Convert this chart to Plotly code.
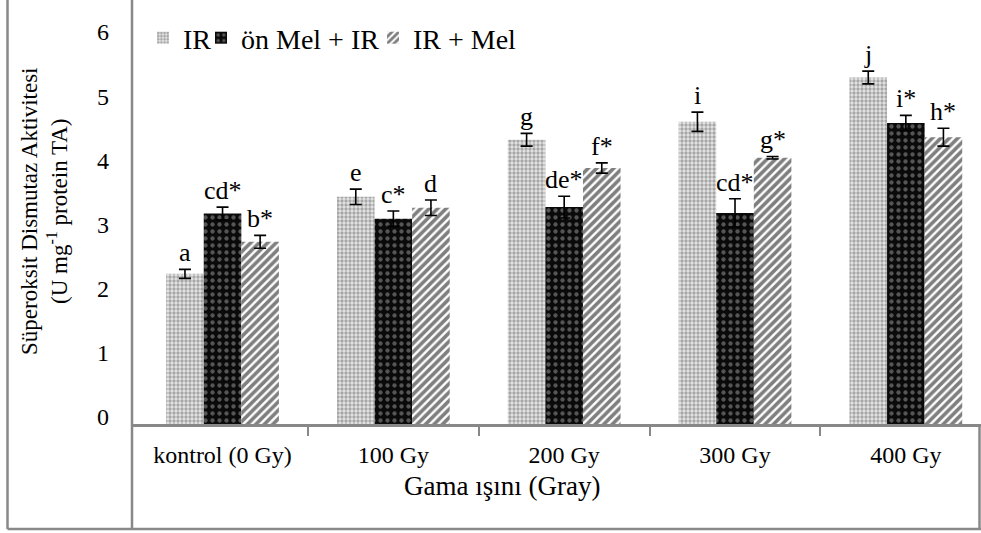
import plotly.graph_objects as go

categories = ["kontrol (0 Gy)", "100 Gy", "200 Gy", "300 Gy", "400 Gy"]
series_names = ["IR", "ön Mel + IR", "IR + Mel"]
ir_vals = [2.34, 3.54, 4.43, 4.71, 5.40]
ir_err = [0.07, 0.12, 0.10, 0.15, 0.10]
onmel_vals = [3.28, 3.20, 3.38, 3.29, 4.69]
onmel_err = [0.10, 0.12, 0.17, 0.22, 0.12]
irmel_vals = [2.84, 3.37, 3.99, 4.15, 4.47]
irmel_err = [0.10, 0.12, 0.08, 0.02, 0.14]
ir_labels = ["a", "e", "g", "i", "j"]
onmel_labels = ["cd*", "c*", "de*", "cd*", "i*"]
irmel_labels = ["b*", "d", "f*", "g*", "h*"]
yticks = [0, 1, 2, 3, 4, 5, 6]

FONT = "Liberation Serif, Times New Roman, serif"
W, H = 981, 533
L, R, T, B = 132, 0, 39, 109
PW, PH = W - L - R, H - T - B

def px_x(p):
    return (p - L) / PW

def px_y(p):
    return (H - B - p) / PH

x_idx = list(range(len(categories)))
patterns = [
    dict(shape=".", bgcolor="#e6e6e6", fgcolor="#666666", size=4, solidity=0.55),
    dict(shape=".", bgcolor="#0a0a0a", fgcolor="#a0a0a0", size=7, solidity=0.3),
    dict(shape="/", bgcolor="#ffffff", fgcolor="#000000", size=6, solidity=0.6),
]
vals = [ir_vals, onmel_vals, irmel_vals]
errs = [ir_err, onmel_err, irmel_err]
labs = [ir_labels, onmel_labels, irmel_labels]
legend_ids = ["legend", "legend2", "legend3"]
legend_px = [143, 201, 373]

fig = go.Figure()
for name, v, e, pat, lg in zip(series_names, vals, errs, patterns, legend_ids):
    fig.add_trace(go.Bar(
        x=x_idx, y=v, name=name, legend=lg,
        marker=dict(color=pat["bgcolor"], pattern=pat, line=dict(width=0)),
        error_y=dict(type="data", array=e, visible=True, color="black", thickness=1.6, width=6),
    ))

bar_w = 0.22
annotations = []
for k, (v, e, lb) in enumerate(zip(vals, errs, labs)):
    off = (k - 1) * bar_w
    for i in x_idx:
        annotations.append(dict(
            x=i + off, y=v[i] + e[i], xref="x", yref="y", text=lb[i],
            showarrow=False, yanchor="bottom", xanchor="center", yshift=0,
            font=dict(family=FONT, size=26, color="black")))

annotations.append(dict(
    x=px_x(44), y=px_y(211), xref="paper", yref="paper",
    text="Süperoksit Dismutaz Aktivitesi<br>(U mg<sup>-1</sup> protein TA)",
    textangle=-90, showarrow=False, xanchor="center", yanchor="middle",
    font=dict(family=FONT, size=23, color="black")))
annotations.append(dict(
    x=px_x(502), y=px_y(486), xref="paper", yref="paper",
    text="Gama ışını (Gray)", showarrow=False, xanchor="center", yanchor="middle",
    font=dict(family=FONT, size=27, color="black")))

line = dict(color="#888888", width=2.5)
shapes = [
    dict(type="line", xref="paper", yref="paper", x0=px_x(132), x1=px_x(132), y0=px_y(0), y1=px_y(529), line=line),
    dict(type="line", xref="paper", yref="paper", x0=px_x(7.5), x1=px_x(7.5), y0=px_y(0), y1=px_y(529), line=line),
    dict(type="line", xref="paper", yref="paper", x0=px_x(7.5), x1=px_x(981), y0=px_y(529), y1=px_y(529), line=line),
    dict(type="line", xref="paper", yref="paper", x0=px_x(979.5), x1=px_x(979.5), y0=px_y(424), y1=px_y(529), line=line),
]

legend_common = dict(orientation="h", xanchor="left", yanchor="top",
                     font=dict(family=FONT, size=28, color="black"), itemwidth=30,
                     bgcolor="rgba(0,0,0,0)")
legends = {}
for lg, lx in zip(legend_ids, legend_px):
    legends[lg] = dict(legend_common, x=px_x(lx), y=px_y(13))

fig.update_layout(
    width=W, height=H,
    margin=dict(l=L, r=R, t=T, b=B, pad=0),
    paper_bgcolor="white", plot_bgcolor="white",
    barmode="group", bargap=0.34, bargroupgap=0,
    font=dict(family=FONT, color="black"),
    showlegend=True,
    xaxis=dict(range=[-0.53, 4.44], tickmode="array", tickvals=x_idx, ticktext=categories,
               ticks="", showline=True, linecolor="#888888", linewidth=2.5,
               showgrid=False, zeroline=False, ticklabelstandoff=7,
               tickfont=dict(family=FONT, size=24, color="black"),
               minor=dict(tickmode="array", tickvals=[0.5, 1.5, 2.5, 3.5], ticks="outside",
                          ticklen=9, tickcolor="#888888", tickwidth=2, showgrid=False)),
    yaxis=dict(range=[0, 6], tickmode="array", tickvals=yticks, ticks="",
               showline=False, showgrid=False, zeroline=False, ticklabelstandoff=22,
               ticklabelshift=-7,
               tickfont=dict(family=FONT, size=24, color="black")),
    annotations=annotations, shapes=shapes,
    **legends,
)

fig.write_html("out.html")
